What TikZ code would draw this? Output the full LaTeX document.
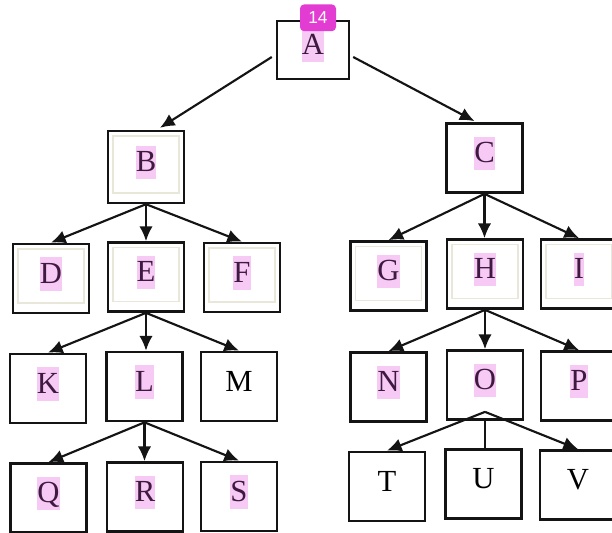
\documentclass[tikz,border=0pt]{standalone}
\usepackage{fontspec}
\setmainfont{Liberation Serif}
\newfontfamily\badgefont{Liberation Sans}
\definecolor{trLine}{HTML}{141414}
\definecolor{trInner}{HTML}{E9E6DA}
\definecolor{trPink}{HTML}{F7C9F5}
\definecolor{trInk}{HTML}{3F1A40}
\definecolor{trBadge}{HTML}{E23CD3}
\usetikzlibrary{positioning,arrows.meta}
\newcommand{\hlmark}[1]{{\setlength{\fboxsep}{0pt}\colorbox{trPink}{\rule[-0.25em]{0pt}{1.1em}\textcolor{trInk}{#1}}}}

\begin{document}
\begin{tikzpicture}[x=0.75pt,y=-0.75pt,
  box/.style={draw=trLine, line width=1.8pt, minimum width=57pt, minimum height=52pt,
    inner sep=0pt, text height=0.95em, text depth=0.25em, font=\fontsize{23}{27}\selectfont},
  framed/.style={box, path picture={
    \draw[trInner, line width=1.2pt]
      ([shift={(5,5)}]path picture bounding box.north west) rectangle
      ([shift={(-5,-10)}]path picture bounding box.south east);}},
  arr/.style={-{Latex[length=11pt,width=10pt]}, line width=1.6pt, draw=trLine},
  badge/.style={fill=trBadge, rounded corners=3pt, text=white, inner sep=0pt,
    minimum width=27pt, minimum height=20pt, font=\badgefont\fontsize{13}{15}\selectfont}]

  \useasboundingbox (0,0) rectangle (612,533);

  % top
  \node[box, minimum width=54pt, minimum height=43.5pt] (A) at (313,50) {\hlmark{A}};
  \node[framed, minimum height=54pt] (B) at (146,167) {\hlmark{B}};
  \node[box] (C) at (484.5,158) {\hlmark{C}};

  % second row
  \node[framed] (D) at (51,278.5) {\hlmark{D}};
  \node[framed] (E) at (146,277) {\hlmark{E}};
  \node[framed] (F) at (242,277.5) {\hlmark{F}};
  \node[framed] (G) at (388.5,276) {\hlmark{G}};
  \node[framed] (H) at (485,274) {\hlmark{H}};
  \node[framed] (I) at (579,274) {\hlmark{I}};

  % third row
  \node[box] (K) at (48,388.5) {\hlmark{K}};
  \node[box] (L) at (144.5,386.5) {\hlmark{L}};
  \node[box] (M) at (239,386.5) {M};
  \node[box] (N) at (388.5,387) {\hlmark{N}};
  \node[box] (O) at (485,385) {\hlmark{O}};
  \node[box] (P) at (579,386) {\hlmark{P}};

  % bottom row
  \node[box] (Q) at (48.5,498) {\hlmark{Q}};
  \node[box] (R) at (145,497) {\hlmark{R}};
  \node[box] (S) at (239,496.5) {\hlmark{S}};
  \node[box] (T) at (387,486.5) {T};
  \node[box] (U) at (483.5,484) {U};
  \node[box] (V) at (578,485) {V};

  % edges
  \draw[arr] ([shift={(-4,7)}]A.west) -- ([shift={(14,-2)}]B.north);
  \draw[arr] ([shift={(3,7)}]A.east) -- ([shift={(-10,-1)}]C.north);
  \foreach \c in {D,F} \draw[arr] (B.south) -- (\c.north);
  \foreach \c in {G,I} \draw[arr] (C.south) -- (\c.north);
  \foreach \c in {K,M} \draw[arr] (E.south) -- (\c.north);
  \foreach \c in {N,P} \draw[arr] (H.south) -- (\c.north);
  \foreach \c in {Q,S} \draw[arr] (L.south) -- (\c.north);
  \foreach \c in {T,V} \draw[arr] ([shift={(0,-9)}]O.south) -- (\c.north);
  % straight down
  \draw[arr] (B.south) -- (B.south |- E.north);
  \draw[arr] (C.south) -- (C.south |- H.north);
  \draw[arr] (E.south) -- (E.south |- L.north);
  \draw[arr] (H.south) -- (H.south |- O.north);
  \draw[arr] (L.south) -- (L.south |- R.north);
  \draw[line width=1.6pt, trLine] (O.south) -- (O.south |- U.north);

  % tag
  \node[badge] (tag) at ([shift={(5,-2)}]A.north) {14};
\end{tikzpicture}
\end{document}
